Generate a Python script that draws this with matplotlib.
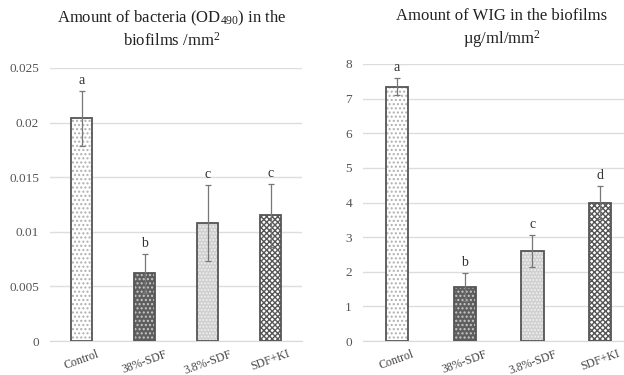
import matplotlib.pyplot as plt

plt.rcParams['font.family'] = ['Liberation Serif', 'DejaVu Serif']
plt.rcParams['mathtext.fontset'] = 'custom'
plt.rcParams['mathtext.rm'] = 'Liberation Serif'
plt.rcParams['mathtext.it'] = 'Liberation Serif:italic'
plt.rcParams['hatch.linewidth'] = 1.0

groups = ['Control', '38%-SDF', '3.8%-SDF', 'SDF+KI']

# bacteria amount (OD490 per mm2)
od_mean = [0.0204, 0.0062, 0.0108, 0.0115]
od_err = [0.0025, 0.0018, 0.0035, 0.0029]
od_letters = ['a', 'b', 'c', 'c']

# WIG amount (ug/ml/mm2)
wig_mean = [7.35, 1.55, 2.6, 4.0]
wig_err = [0.25, 0.4, 0.45, 0.48]
wig_letters = ['a', 'b', 'c', 'd']

# face colour, hatch, hatch colour for each group
faces = ['white', '#5e5e5e', '#cfcfcf', 'white']
hatches = ['....', '....', '.....', 'xxxxxx']
hcols = ['#b0b0b0', '#c8c8c8', '#f0f0f0', '#555555']

fig = plt.figure(figsize=(6.24, 3.75), dpi=100)
ax1 = fig.add_axes([50 / 624, 34 / 375, 252 / 624, 273 / 375])
ax2 = fig.add_axes([363 / 624, 34 / 375, 261 / 624, 277 / 375])


def draw(ax, means, errs, letters, ymax, step, fmt, xmax):
    x = range(len(groups))
    for i in x:
        ax.bar(i, means[i], width=0.33, color=faces[i], hatch=hatches[i],
               edgecolor=hcols[i], linewidth=0, zorder=2)
    ax.bar(x, means, width=0.33, fill=False, edgecolor='#555555',
           linewidth=1.3, zorder=3)
    ax.errorbar(x, means, yerr=errs, fmt='none', ecolor='#777777',
                elinewidth=0.9, capsize=2, capthick=0.9, zorder=4)
    for i in x:
        ax.text(i, means[i] + errs[i] + ymax * 0.015, letters[i],
                ha='center', va='bottom', fontsize=10, color='#333333')
    ax.set_ylim(0, ymax)
    ax.set_xlim(-0.5, xmax)
    ticks = [k * step for k in range(int(round(ymax / step)) + 1)]
    ax.set_yticks(ticks)
    ax.set_yticklabels([fmt(t) for t in ticks], fontsize=9.5, color='#555555')
    ax.set_xticks(list(x))
    ax.set_xticklabels(groups, rotation=20, fontsize=8.5, color='#444444',
                       ha='center')
    ax.tick_params(length=0, pad=8)
    ax.tick_params(axis='x', pad=5)
    ax.grid(axis='y', color='#dddddd', linewidth=1, zorder=0)
    ax.set_axisbelow(True)
    for s in ['top', 'right', 'left']:
        ax.spines[s].set_visible(False)
    ax.spines['bottom'].set_color('#d9d9d9')


def fmt_od(v):
    if v == 0:
        return '0'
    return ('%.3f' % v).rstrip('0')


draw(ax1, od_mean, od_err, od_letters, 0.025, 0.005, fmt_od, 3.5)
draw(ax2, wig_mean, wig_err, wig_letters, 8, 1, lambda v: '%d' % v, 3.35)

fig.text(172 / 624, 1 - 29 / 375,
         'Amount of bacteria (OD$_{490}$) in the\nbiofilms /mm$^2$',
         ha='center', va='center', fontsize=12, color='#222222',
         linespacing=1.25)
fig.text(502 / 624, 1 - 29 / 375,
         'Amount of WIG in the biofilms\n\u00b5g/ml/mm$^2$',
         ha='center', va='center', fontsize=12, color='#222222',
         linespacing=1.25)

fig.savefig('out.png', dpi=100)
